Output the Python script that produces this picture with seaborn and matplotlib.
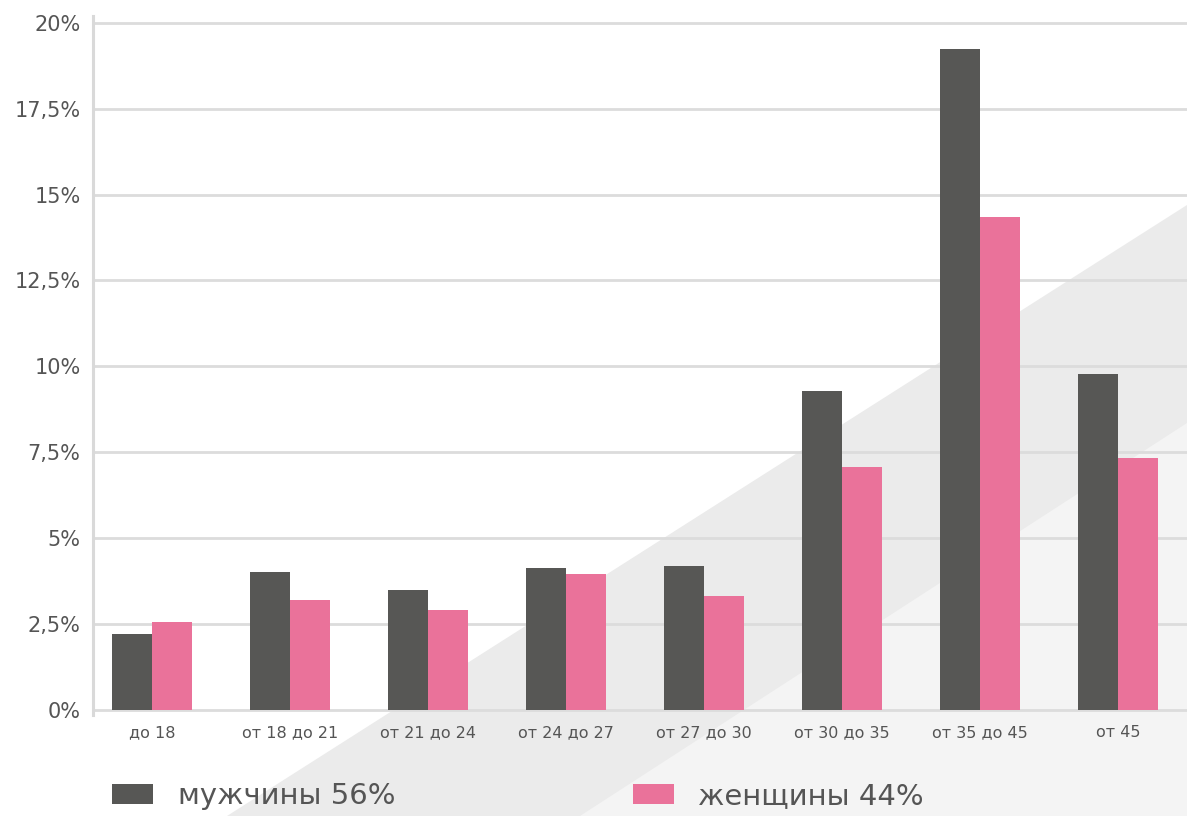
import pandas as pd
import seaborn as sns
import matplotlib.pyplot as plt
from matplotlib.patches import Polygon
from matplotlib.ticker import FuncFormatter

# Возрастные группы и доли (в процентах)
ages = ["до 18", "от 18 до 21", "от 21 до 24", "от 24 до 27",
        "от 27 до 30", "от 30 до 35", "от 35 до 45", "от 45"]
men = [2.21, 4.02, 3.49, 4.13, 4.19, 9.29, 19.24, 9.78]
women = [2.56, 3.20, 2.91, 3.96, 3.32, 7.07, 14.35, 7.34]
series_names = ["мужчины 56%", "женщины 44%"]
colors = ["#575755", "#ea729a"]
y_ticks = [0, 2.5, 5, 7.5, 10, 12.5, 15, 17.5, 20]

df = pd.DataFrame({
    "age": ages * 2,
    "value": men + women,
    "sex": [series_names[0]] * len(ages) + [series_names[1]] * len(ages),
})

sns.set_style("white")
plt.rcParams['font.family'] = ['DejaVu Sans']

W, H = 1187, 816
fig = plt.figure(figsize=(W / 100, H / 100), dpi=100)


def px(pts):
    # пиксели картинки -> координаты фигуры
    return [(x / W, 1 - y / H) for x, y in pts]


# светлая диагональная полоса на фоне
fig.add_artist(Polygon(px([(227, 816), (1187, 205), (1187, 816)]),
                       closed=True, color="#ebebeb", lw=0, zorder=0,
                       transform=fig.transFigure))
fig.add_artist(Polygon(px([(580, 816), (1187, 423), (1187, 816)]),
                       closed=True, color="#f4f4f4", lw=0, zorder=0,
                       transform=fig.transFigure))

ax = fig.add_axes([93 / W, 1 - 715 / H, 1 - 93 / W, (715 - 16) / H])
ax.patch.set_alpha(0)

sns.barplot(data=df, x="age", y="value", hue="sex", palette=colors,
            width=0.58, saturation=1, linewidth=0, ax=ax, zorder=3)

ax.set_xlim(-0.43, 7.5)
ax.set_ylim(-0.15, 20.2)
ax.set_yticks(y_ticks)
ax.yaxis.set_major_formatter(
    FuncFormatter(lambda v, _: f"{v:g}".replace(".", ",") + "%"))
ax.grid(axis="y", color="#dcdcdc", lw=2.0, zorder=1)
ax.set_axisbelow(True)
ax.set_xlabel("")
ax.set_ylabel("")
for s in ["top", "right", "bottom"]:
    ax.spines[s].set_visible(False)
ax.spines["left"].set_color("#d9d9d9")
ax.spines["left"].set_linewidth(2.2)
ax.tick_params(axis="y", length=0, pad=9, labelsize=15, labelcolor="#555555")
ax.tick_params(axis="x", length=0, pad=7, labelsize=11.5, labelcolor="#555555")

sns.move_legend(ax, "lower left", bbox_to_anchor=(112 / W, 0.007),
                bbox_transform=fig.transFigure, ncol=2, frameon=False,
                title=None, fontsize=21, handlelength=1.4, handleheight=0.7,
                handletextpad=0.85, columnspacing=8.15, borderaxespad=0,
                borderpad=0)
for t in ax.get_legend().get_texts():
    t.set_color("#555555")

plt.savefig("out.png", dpi=100)
plt.close()
